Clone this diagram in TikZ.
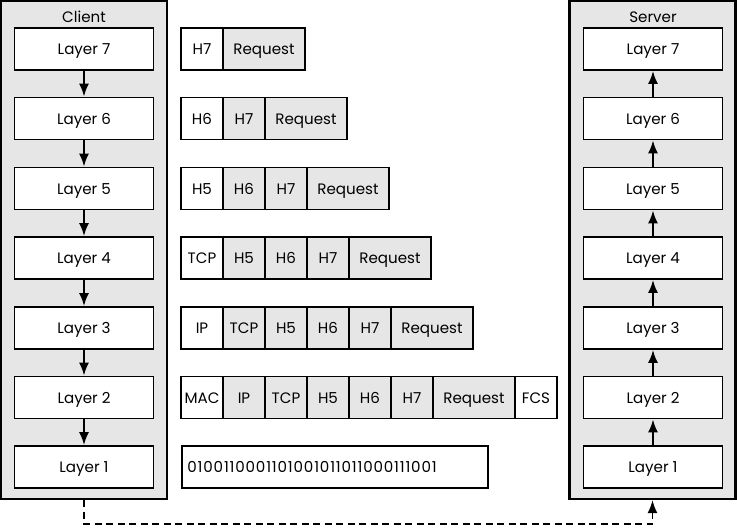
\documentclass[tikz,border=0pt]{standalone}
\usepackage{fontspec}
\setmainfont{Poppins}
\newfontfamily\bitsfont[LetterSpace=5.5]{Poppins}
\definecolor{panelgray}{RGB}{230,230,231}
\usetikzlibrary{positioning,arrows.meta}

\begin{document}
\begin{tikzpicture}[
    font=\fontsize{8.6}{10}\selectfont,
    every node/.style={text height=1.55ex,text depth=0.35ex},
    panel/.style={rectangle,draw,line width=1.2pt,fill=panelgray,minimum width=3.32cm,minimum height=9.96cm,inner sep=0pt},
    layer/.style={rectangle,draw,line width=1.1pt,fill=white,minimum width=2.78cm,minimum height=0.84cm},
    hdr/.style={rectangle,draw,line width=1pt,fill=white,minimum width=0.84cm,minimum height=0.84cm,inner sep=0pt,outer sep=0pt},
    cell/.style={hdr,fill=panelgray},
    req/.style={cell,minimum width=1.64cm},
    arrow/.style={-{Latex[length=2.6mm,width=2mm]},line width=1pt}
]
    \useasboundingbox (0,0) rectangle (14.74,-10.58);

    % client side
    \node[panel] (client) at (1.68,-5.0) {};
    \node (clientlbl) at (1.68,-0.33) {Client};
    \node[layer] (c7) at (1.68,-0.98) {Layer 7};
    \node[layer] (c6) at (1.68,-2.37) {Layer 6};
    \node[layer] (c5) at (1.68,-3.77) {Layer 5};
    \node[layer] (c4) at (1.68,-5.16) {Layer 4};
    \node[layer] (c3) at (1.68,-6.56) {Layer 3};
    \node[layer] (c2) at (1.68,-7.95) {Layer 2};
    \node[layer] (c1) at (1.68,-9.34) {Layer 1};
    \draw[arrow] (c7) -- (c6);
    \draw[arrow] (c6) -- (c5);
    \draw[arrow] (c5) -- (c4);
    \draw[arrow] (c4) -- (c3);
    \draw[arrow] (c3) -- (c2);
    \draw[arrow] (c2) -- (c1);

    % server side
    \node[panel] (server) at (13.05,-5.0) {};
    \node (serverlbl) at (13.06,-0.33) {Server};
    \node[layer] (s7) at (13.06,-0.98) {Layer 7};
    \node[layer] (s6) at (13.06,-2.37) {Layer 6};
    \node[layer] (s5) at (13.06,-3.77) {Layer 5};
    \node[layer] (s4) at (13.06,-5.16) {Layer 4};
    \node[layer] (s3) at (13.06,-6.56) {Layer 3};
    \node[layer] (s2) at (13.06,-7.95) {Layer 2};
    \node[layer] (s1) at (13.06,-9.34) {Layer 1};
    \draw[arrow] (s1) -- (s2);
    \draw[arrow] (s2) -- (s3);
    \draw[arrow] (s3) -- (s4);
    \draw[arrow] (s4) -- (s5);
    \draw[arrow] (s5) -- (s6);
    \draw[arrow] (s6) -- (s7);

    % packets
    \node[hdr,anchor=west] (p7a) at (3.62,-0.98) {H7};
    \node[req,right=0pt of p7a] (p7b) {Request};

    \node[hdr,anchor=west] (p6a) at (3.62,-2.37) {H6};
    \node[cell,right=0pt of p6a] (p6b) {H7};
    \node[req,right=0pt of p6b] (p6c) {Request};

    \node[hdr,anchor=west] (p5a) at (3.62,-3.77) {H5};
    \node[cell,right=0pt of p5a] (p5b) {H6};
    \node[cell,right=0pt of p5b] (p5c) {H7};
    \node[req,right=0pt of p5c] (p5d) {Request};

    \node[hdr,anchor=west] (p4a) at (3.62,-5.16) {TCP};
    \node[cell,right=0pt of p4a] (p4b) {H5};
    \node[cell,right=0pt of p4b] (p4c) {H6};
    \node[cell,right=0pt of p4c] (p4d) {H7};
    \node[req,right=0pt of p4d] (p4e) {Request};

    \node[hdr,anchor=west] (p3a) at (3.62,-6.56) {IP};
    \node[cell,right=0pt of p3a] (p3b) {TCP};
    \node[cell,right=0pt of p3b] (p3c) {H5};
    \node[cell,right=0pt of p3c] (p3d) {H6};
    \node[cell,right=0pt of p3d] (p3e) {H7};
    \node[req,right=0pt of p3e] (p3f) {Request};

    \node[hdr,anchor=west] (p2a) at (3.62,-7.95) {MAC};
    \node[cell,right=0pt of p2a] (p2b) {IP};
    \node[cell,right=0pt of p2b] (p2c) {TCP};
    \node[cell,right=0pt of p2c] (p2d) {H5};
    \node[cell,right=0pt of p2d] (p2e) {H6};
    \node[cell,right=0pt of p2e] (p2f) {H7};
    \node[req,right=0pt of p2f] (p2g) {Request};
    \node[hdr,right=0pt of p2g] (p2h) {FCS};

    \node[rectangle,draw,line width=1pt,minimum height=0.84cm,text width=5.9cm,inner xsep=0.11cm,align=left,anchor=west,font=\fontsize{8.6}{10}\bitsfont] (bits) at (3.62,-9.34) {0100110001101001011011000111001};

    % wire between the hosts
    \draw[arrow,line width=1.1pt,dash pattern=on 1.4mm off 0.9mm] (client.south) -- ++(0,-0.48) -| (server.south);
\end{tikzpicture}
\end{document}
